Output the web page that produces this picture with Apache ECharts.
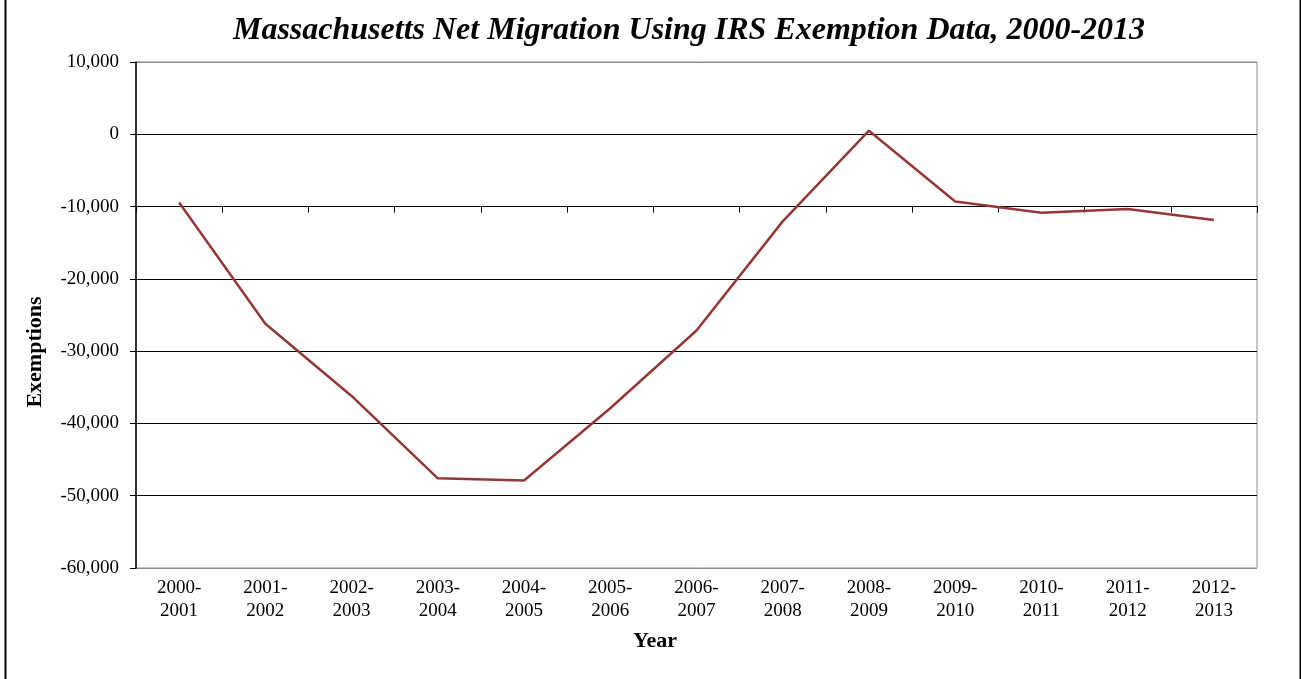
<!DOCTYPE html>
<html>
<head>
<meta charset="utf-8">
<script src="https://cdn.jsdelivr.net/npm/echarts@6/dist/echarts.min.js"></script>
<style>
  html, body { margin: 0; padding: 0; background: #fff; }
  #chart { width: 1301px; height: 679px; }
</style>
</head>
<body>
<div id="chart"></div>
<script>
// data
const years = ['2000-\n2001', '2001-\n2002', '2002-\n2003', '2003-\n2004', '2004-\n2005',
  '2005-\n2006', '2006-\n2007', '2007-\n2008', '2008-\n2009', '2009-\n2010',
  '2010-\n2011', '2011-\n2012', '2012-\n2013'];
const netMigration = [-9450, -26200, -36200, -47600, -47900, -37900, -27150,
  -12050, 500, -9300, -10850, -10350, -11850];
const yTicks = { min: -60000, max: 10000, interval: 10000 };
const axisCross = -10000;

const serif = '"Liberation Serif", "Times New Roman", serif';
const chart = echarts.init(document.getElementById('chart'));

// first and last grid lines are the grey plot border
const splitColors = ['#8c8c8c', '#000', '#000', '#000', '#000', '#000', '#000', '#8c8c8c'];

const option = {
  animation: false,
  backgroundColor: '#fff',
  title: {
    text: 'Massachusetts Net Migration Using IRS Exemption Data, 2000-2013',
    left: 684, top: 10, textAlign: 'center',
    textStyle: { fontFamily: serif, fontSize: 32, fontWeight: 'bold', fontStyle: 'italic', color: '#000' }
  },
  grid: {
    left: 136, right: 44, top: 62, bottom: 111,
    show: true, borderColor: '#8c8c8c', borderWidth: 1
  },
  xAxis: [{
    type: 'category',
    data: years,
    boundaryGap: true,
    position: 'bottom',
    axisLine: { show: false },
    axisTick: { show: false },
    axisLabel: {
      interval: 0, margin: 9, color: '#000',
      fontFamily: serif, fontSize: 19, lineHeight: 23
    }
  }, {
    // the crossing axis drawn at -10,000 (ticks only)
    type: 'category',
    data: years,
    boundaryGap: true,
    position: 'top',
    offset: 0,
    axisLine: { show: true, lineStyle: { color: '#000', width: 1 } },
    axisTick: { show: true, inside: true, length: 6, interval: 0, lineStyle: { color: '#000' } },
    axisLabel: { show: false }
  }],
  yAxis: {
    type: 'value',
    min: yTicks.min, max: yTicks.max, interval: yTicks.interval,
    axisLine: { show: true, lineStyle: { color: '#000', width: 1.5 } },
    axisTick: { show: true, length: 6, lineStyle: { color: '#000' } },
    axisLabel: {
      margin: 17, color: '#000', fontFamily: serif, fontSize: 19,
      formatter: v => v.toLocaleString('en-US')
    },
    splitLine: { show: true, lineStyle: { color: splitColors, width: 1.2 } }
  },
  series: [{
    type: 'line',
    data: netMigration,
    xAxisIndex: 0,
    symbol: 'none',
    lineStyle: { color: '#953735', width: 2.5 },
    z: 5
  }],
  graphic: [
    {
      type: 'rect', left: 3, top: -10,
      shape: { width: 1295, height: 700 },
      style: { fill: 'none', stroke: '#000', lineWidth: 2 }, silent: true
    },
    {
      type: 'text', x: 35, y: 352, rotation: Math.PI / 2,
      style: { text: 'Exemptions', fontFamily: serif, fontSize: 22, fontWeight: 'bold',
        fill: '#000', align: 'center', verticalAlign: 'middle' }
    },
    {
      type: 'text', x: 655, y: 641,
      style: { text: 'Year', fontFamily: serif, fontSize: 22, fontWeight: 'bold',
        fill: '#000', align: 'center', verticalAlign: 'middle' }
    }
  ]
};

chart.setOption(option);

// move the tick axis down to the -10,000 line
const topY = chart.convertToPixel({ yAxisIndex: 0 }, yTicks.max);
const crossY = chart.convertToPixel({ yAxisIndex: 0 }, axisCross);
chart.setOption({ xAxis: [{}, { offset: -(crossY - topY) }] });
</script>
</body>
</html>
